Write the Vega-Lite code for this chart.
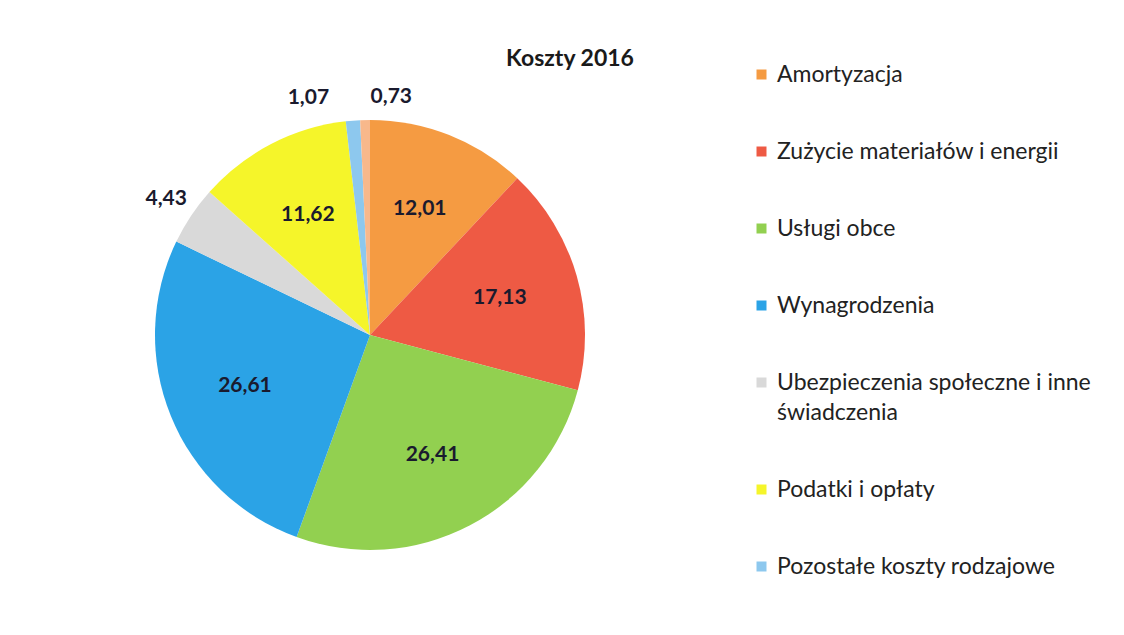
{
  "$schema": "https://vega.github.io/schema/vega-lite/v6.json",
  "autosize": {"type": "none"},
  "width": 740,
  "height": 470,
  "padding": {"left": 0, "top": 100, "right": 384, "bottom": 65},
  "background": "white",
  "title": {
    "text": "Koszty 2016",
    "font": "Lato",
    "fontSize": 23,
    "fontWeight": "bold",
    "color": "#1a1a1a",
    "anchor": "middle",
    "dx": 200,
    "offset": -8
  },
  "config": {
    "view": {"stroke": null},
    "style": {"guide-label": {"lineHeight": 30}},
    "locale": {
      "number": {"decimal": ",", "thousands": " ", "grouping": [3], "currency": ["", " zł"]}
    }
  },
  "data": {
    "values": [
      {"nr": 1, "kategoria": "Amortyzacja", "wartosc": 12.01},
      {"nr": 2, "kategoria": "Zużycie materiałów i energii", "wartosc": 17.13},
      {"nr": 3, "kategoria": "Usługi obce", "wartosc": 26.41},
      {"nr": 4, "kategoria": "Wynagrodzenia", "wartosc": 26.61},
      {"nr": 5, "kategoria": "Ubezpieczenia społeczne i inne świadczenia", "wartosc": 4.43},
      {"nr": 6, "kategoria": "Podatki i opłaty", "wartosc": 11.62},
      {"nr": 7, "kategoria": "Pozostałe koszty rodzajowe", "wartosc": 1.07},
      {"nr": 8, "kategoria": "Inne", "wartosc": 0.73}
    ]
  },
  "encoding": {
    "theta": {"field": "wartosc", "type": "quantitative", "stack": true},
    "order": {"field": "nr", "type": "quantitative"}
  },
  "layer": [
    {
      "mark": {"type": "arc", "outerRadius": 215, "stroke": null},
      "encoding": {
        "color": {
          "field": "kategoria",
          "type": "nominal",
          "sort": null,
          "scale": {
            "domain": ["Amortyzacja", "Zużycie materiałów i energii", "Usługi obce", "Wynagrodzenia", "Ubezpieczenia społeczne i inne świadczenia", "Podatki i opłaty", "Pozostałe koszty rodzajowe", "Inne"],
            "range": ["#F59B42", "#EE5A44", "#92D050", "#2BA3E6", "#D9D9D9", "#F5F52A", "#8DC8EE", "#F8B88B"]
          },
          "legend": {
            "values": ["Amortyzacja", "Zużycie materiałów i energii", "Usługi obce", "Wynagrodzenia", "Ubezpieczenia społeczne i inne świadczenia", "Podatki i opłaty", "Pozostałe koszty rodzajowe"],
            "title": null,
            "orient": "none",
            "legendX": 750,
            "legendY": -37,
            "symbolType": "square",
            "symbolSize": 100,
            "symbolStrokeWidth": 0,
            "labelFont": "Lato",
            "labelFontSize": 23,
            "labelColor": "#222222",
            "labelLimit": 400,
            "labelOffset": 4,
            "rowPadding": 53,
            "labelExpr": "datum.label == 'Ubezpieczenia społeczne i inne świadczenia' ? ['Ubezpieczenia społeczne i inne', 'świadczenia'] : datum.label"
          }
        }
      }
    },
    {
      "mark": {"type": "text", "radius": 135, "font": "Lato", "fontSize": 21, "fontWeight": "bold", "color": "#1a1a2e"},
      "encoding": {
        "text": {"condition": {"test": "datum.wartosc > 5", "field": "wartosc", "type": "quantitative", "format": ".2f"}, "value": ""}
      }
    },
    {
      "mark": {"type": "text", "radius": 245, "font": "Lato", "fontSize": 21, "fontWeight": "bold", "color": "#1a1a2e"},
      "encoding": {
        "text": {"condition": {"test": "datum.nr == 5", "field": "wartosc", "type": "quantitative", "format": ".2f"}, "value": ""}
      }
    },
    {
      "mark": {"type": "text", "radius": 238, "align": "right", "dx": -22, "font": "Lato", "fontSize": 21, "fontWeight": "bold", "color": "#1a1a2e"},
      "encoding": {
        "text": {"condition": {"test": "datum.nr == 7", "field": "wartosc", "type": "quantitative", "format": ".2f"}, "value": ""}
      }
    },
    {
      "mark": {"type": "text", "radius": 238, "align": "left", "dx": 6, "font": "Lato", "fontSize": 21, "fontWeight": "bold", "color": "#1a1a2e"},
      "encoding": {
        "text": {"condition": {"test": "datum.nr == 8", "field": "wartosc", "type": "quantitative", "format": ".2f"}, "value": ""}
      }
    }
  ]
}
